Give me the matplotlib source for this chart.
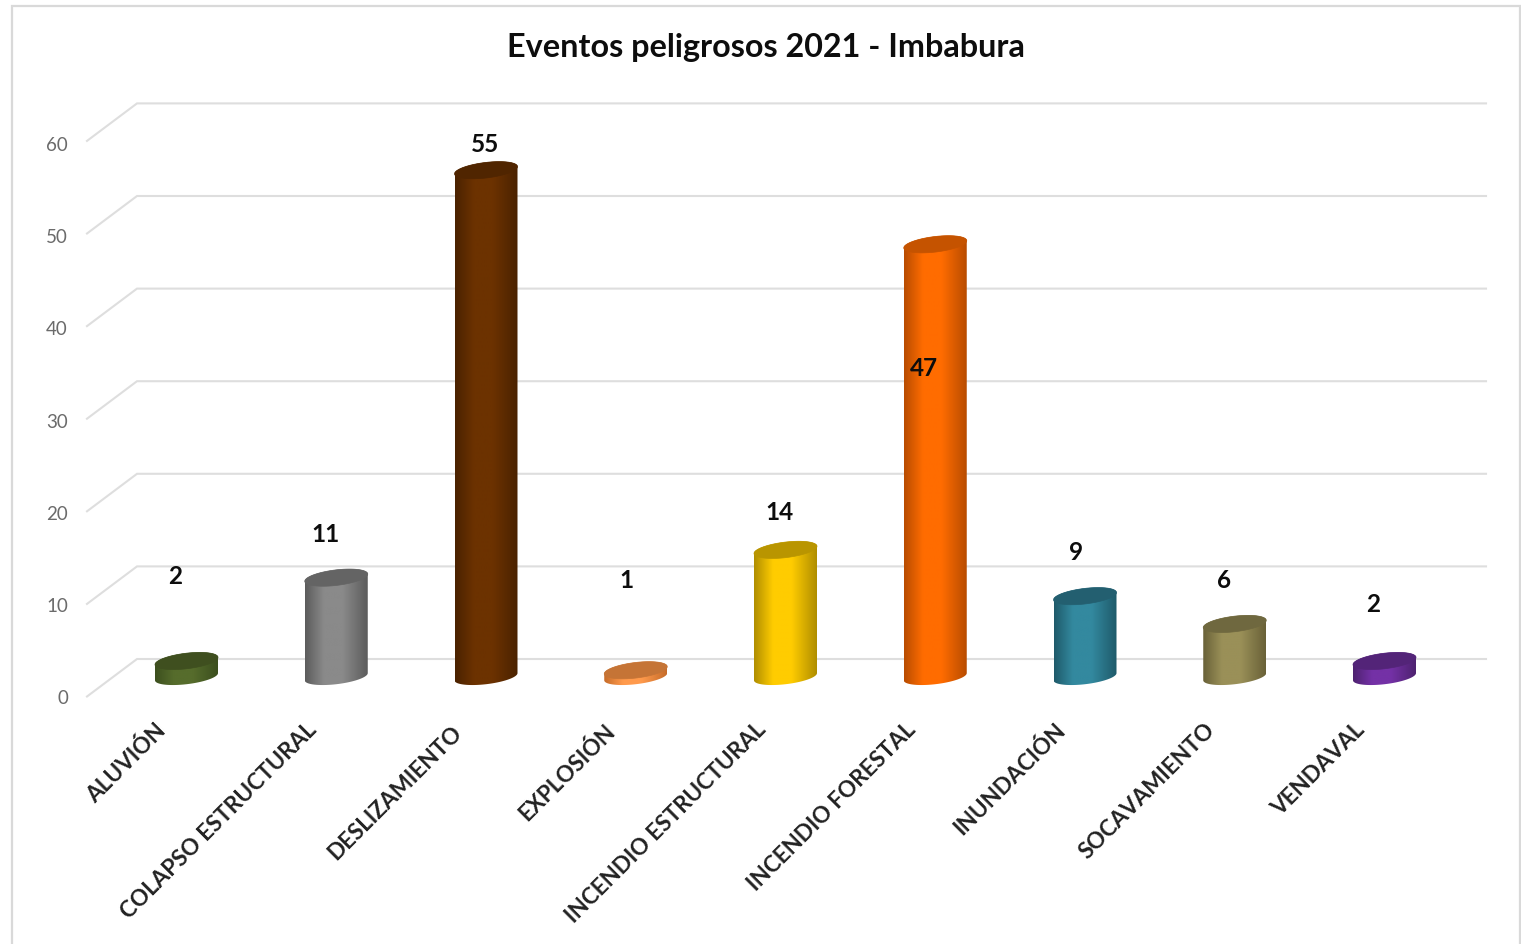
import numpy as np
import matplotlib
matplotlib.use("Agg")
import matplotlib.pyplot as plt
from matplotlib.colors import LinearSegmentedColormap
from matplotlib.patches import Polygon, Rectangle

plt.rcParams['font.family'] = ['Lato', 'DejaVu Sans']

categories = ["ALUVIÓN", "COLAPSO ESTRUCTURAL", "DESLIZAMIENTO", "EXPLOSIÓN",
              "INCENDIO ESTRUCTURAL", "INCENDIO FORESTAL", "INUNDACIÓN",
              "SOCAVAMIENTO", "VENDAVAL"]
values = [2, 11, 55, 1, 14, 47, 9, 6, 2]
axis_ticks = [0, 10, 20, 30, 40, 50, 60]

centre_colors = ["#566c2c", "#8a8a8a", "#6c3200", "#ff9a4c", "#ffcc00",
                 "#ff6c00", "#33899f", "#9a9058", "#7431a6"]
edge_colors = ["#3c4f1e", "#5c5c5c", "#4a2200", "#c66c2a", "#b08e00",
               "#b84c00", "#1f5a6a", "#696138", "#4e2270"]
top_colors = ["#3f4f1f", "#646464", "#502500", "#c57436", "#b99500",
              "#c55300", "#235f70", "#6f683f", "#532478"]

# pixel layout of the reference
W, H = 1521, 945
X0, DX = 186.5, 149.75
Y0, DY = 680.5, 9.26
HALF_W = 31.5 / DX
B_TOP = 7.8 / DY
B_BASE = 7.5 / DY
SHEAR = (3.6 / DY) / HALF_W
BASE = 0.3
BACK = 20.5 / DY
FRONT = -17.0 / DY

# data label spots in pixels
label_px = [(175, 576), (325.5, 535), (485.5, 144), (626.5, 581), (779, 512),
            (924, 368), (1076, 553), (1224.5, 581), (1373.5, 604)]
# right end of each rotated category label in pixels
cat_px = [(155, 720), (306, 719), (451.5, 722), (604.5, 720), (755, 719),
          (905, 719), (1054, 719), (1204, 719), (1354, 719)]


def px(x, y):
    return (x - X0) / DX, (Y0 - y) / DY


fig = plt.figure(figsize=(W / 100, H / 100), dpi=100)
ax = fig.add_axes([0, 0, 1, 1])
ax.axis("off")

ax.add_patch(Rectangle(px(12, 960), 1508 / DX, 953 / DY, fill=False,
                       ec="#d9d9d9", lw=1.6, zorder=1))

grid_back_l = px(137, 0)[0]
grid_back_r = px(1486, 0)[0]
grid_front = px(87, 0)[0]
for t in axis_ticks:
    ax.plot([grid_front, grid_back_l, grid_back_r],
            [t + FRONT, t + BACK, t + BACK],
            color="#dedede", lw=1.5, zorder=2, solid_joinstyle="miter")
    ax.text(px(68, 0)[0], t * 0.9953 + px(0, 698.5)[1], str(t), ha="right", va="center",
            fontsize=13.5, color="#6b6b6b", zorder=6)

theta = np.linspace(0, 2 * np.pi, 121)
for i, v in enumerate(values):
    # lower half of the base ellipse joined to the top ellipse outline
    low = theta[60:121]
    bx = i + HALF_W * np.cos(low)
    by = BASE + B_BASE * np.sin(low) + SHEAR * HALF_W * np.cos(low)
    upp = theta[0:61]
    tx = i + HALF_W * np.cos(upp)
    ty = v + B_TOP * np.sin(upp) + SHEAR * HALF_W * np.cos(upp)
    outline = np.vstack([np.column_stack([bx, by]), np.column_stack([tx, ty])])
    body = Polygon(outline, closed=True, fc="none", ec="none", transform=ax.transData)
    ax.add_patch(body)

    cmap = LinearSegmentedColormap.from_list(
        "side", [(0.0, edge_colors[i]), (0.3, centre_colors[i]), (0.6, centre_colors[i]),
                 (1.0, edge_colors[i])])
    im = ax.imshow(np.linspace(0, 1, 128).reshape(1, -1), cmap=cmap, aspect="auto",
                   extent=[i - HALF_W, i + HALF_W, BASE - 2, v + 2], zorder=3,
                   interpolation="bilinear")
    im.set_clip_path(body)

    # top face
    fx = i + HALF_W * np.cos(theta)
    fy = v + B_TOP * np.sin(theta) + SHEAR * HALF_W * np.cos(theta)
    ax.add_patch(Polygon(np.column_stack([fx, fy]), closed=True, fc=top_colors[i],
                         ec=top_colors[i], lw=0.5, zorder=4))

    lx, ly = px(*label_px[i])
    ax.text(lx, ly, str(v), ha="center", va="center", fontsize=17.5, fontweight="bold",
            color="#0d0d0d", zorder=6)
    cx, cy = px(*cat_px[i])
    ax.text(cx, cy, categories[i], rotation=45, rotation_mode="anchor", ha="right",
            va="top", fontsize=16.2, fontweight="bold", color="#222222", zorder=6)

tx0, ty0 = px(765.5, 47.5)
ax.text(tx0, ty0, "Eventos peligrosos 2021 - Imbabura", ha="center", va="center",
        fontsize=23.3, fontweight="bold", color="#0d0d0d", zorder=6)

ax.set_xlim(px(0, 0)[0], px(W, 0)[0])
ax.set_ylim(px(0, H)[1], px(0, 0)[1])
fig.savefig("out.png", dpi=100, facecolor="white")
